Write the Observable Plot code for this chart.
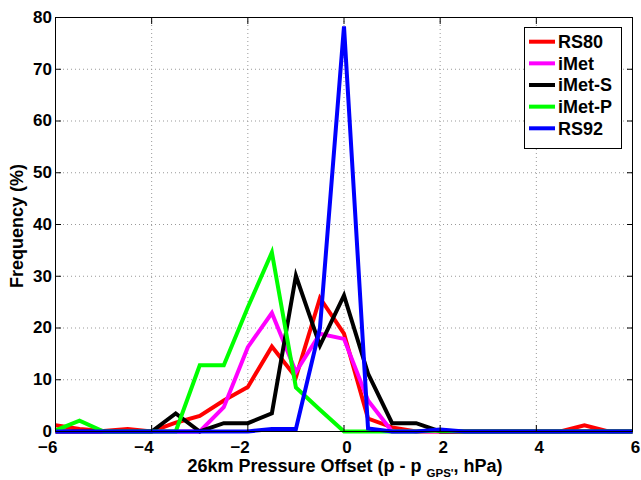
<!DOCTYPE html>
<html><head><meta charset="utf-8">
<script src="https://cdn.jsdelivr.net/npm/d3@7"></script>
<script src="https://cdn.jsdelivr.net/npm/@observablehq/plot@0.6"></script>
<style>body{margin:0;background:#fff} svg{display:block}</style>
</head><body><div id="chart"></div>
<script>
const xs     = [-6,-5.5,-5,-4.5,-4,-3.5,-3,-2.5,-2,-1.5,-1,-0.5,0,0.5,1,1.5,2,2.5,3,3.5,4,4.5,5,5.5,6];
const rs80   = [1.2,0.5,0.1,0.5,0,1.7,3.0,6.0,8.6,16.4,10.5,25.8,18.9,2.5,0.8,0,0,0,0,0,0,0,1.2,0,0];
const iMet   = [0,0,0,0,0,0,0,4.7,16.3,22.9,11.5,18.9,17.9,6.0,0,0,0,0,0,0,0,0,0,0,0];
const iMetS  = [0,0,0,0,0,3.5,0,1.6,1.6,3.5,30.1,16.6,26.3,11.2,1.6,1.6,0,0,0,0,0,0,0,0,0];
const iMetP  = [0.2,2.1,0,0,0,0,12.8,12.8,24.0,34.6,8.5,4.2,0,0,0,0,0.2,0,0,0,0,0,0,0,0];
const rs92   = [0,0,0,0,0,0,0,0,0,0.5,0.5,20.0,78.3,0.6,0,0,0.4,0,0,0,0,0,0,0,0];
const seriesNames  = ["RS80","iMet","iMet-S","iMet-P","RS92"];
const seriesColors = ["#ff0000","#ff00ff","#000000","#00ff00","#0000ff"];
const seriesValues = [rs80, iMet, iMetS, iMetP, rs92];
const xTicks = [-6,-4,-2,0,2,4,6];
const yTicks = [0,10,20,30,40,50,60,70,80];
const xTitle = ["26km Pressure Offset (p - p ", "GPS'", ", hPa)"];
const yTitle = "Frequency (%)";

const data = seriesNames.flatMap((name, i) => xs.map((x, j) => ({name, x, y: seriesValues[i][j]})));
const font = "'Liberation Sans', Arial, Helvetica, sans-serif";
const grid = {stroke: "#999", strokeOpacity: 1, strokeDasharray: "1,3"};

const plot = Plot.plot({
  width: 641, height: 480,
  marginLeft: 55, marginRight: 9, marginTop: 17, marginBottom: 49,
  style: {fontFamily: font, fontSize: "17px", fontWeight: "bold", background: "#fff", color: "#000", overflow: "visible"},
  x: {domain: [-6, 6]},
  y: {domain: [0, 80]},
  color: {domain: seriesNames, range: seriesColors},
  marks: [
    Plot.gridX(xTicks.slice(1, -1), grid),
    Plot.gridY(yTicks.slice(1, -1), grid),
    Plot.line(data, {x: "x", y: "y", z: "name", stroke: "name", strokeWidth: 4, strokeLinejoin: "miter", strokeLinecap: "butt", strokeMiterlimit: 10}),
    Plot.frame({stroke: "#000"}),
    Plot.axisX(xTicks, {anchor: "bottom", tickSize: -6, tickFormat: () => "", label: null}),
    Plot.axisX(xTicks, {anchor: "top", tickSize: -6, tickFormat: () => "", label: null}),
    Plot.axisY(yTicks, {anchor: "left", tickSize: -6, tickPadding: 9.5, label: null}),
    Plot.axisY(yTicks, {anchor: "right", tickSize: -6, tickFormat: () => "", label: null}),
    Plot.axisX(xTicks.filter(d => d < 0), {anchor: "bottom", tickSize: 0, tickPadding: 9, textAnchor: "end", dx: 2, label: null}),
    Plot.axisX(xTicks.filter(d => d >= 0), {anchor: "bottom", tickSize: 0, tickPadding: 9, dx: 3, label: null})
  ]
});

const svg = d3.select(plot);
// axis titles
const xt = svg.append("text").attr("x", 345).attr("y", 472).attr("text-anchor", "middle")
  .attr("font-family", font).attr("font-size", 18).attr("font-weight", "bold").attr("fill", "#000");
xt.append("tspan").text(xTitle[0]);
xt.append("tspan").attr("font-size", 11.5).attr("dy", 5).text(xTitle[1]);
xt.append("tspan").attr("dy", -5).text(xTitle[2]);
svg.append("text").attr("transform", "translate(17,226) rotate(-90)").attr("text-anchor", "middle")
  .attr("dy", "0.35em").attr("font-family", font).attr("font-size", 18).attr("font-weight", "bold")
  .attr("fill", "#000").text(yTitle);

// legend
const lg = svg.append("g").attr("font-family", font).attr("font-size", 18).attr("font-weight", "bold")
  .attr("text-anchor", "start");
lg.append("rect").attr("x", 524.5).attr("y", 27.5).attr("width", 97).attr("height", 121)
  .attr("fill", "#fff").attr("stroke", "#000");
seriesNames.forEach((name, i) => {
  const cy = 41.7 + i * 21.65;
  lg.append("line").attr("x1", 529).attr("x2", 555).attr("y1", cy).attr("y2", cy)
    .attr("stroke", seriesColors[i]).attr("stroke-width", 4);
  lg.append("text").attr("x", 558).attr("y", cy).attr("dy", "0.36em").attr("text-anchor", "start")
    .attr("fill", "#000").text(name);
});

document.getElementById("chart").appendChild(plot);
</script>
</body></html>
